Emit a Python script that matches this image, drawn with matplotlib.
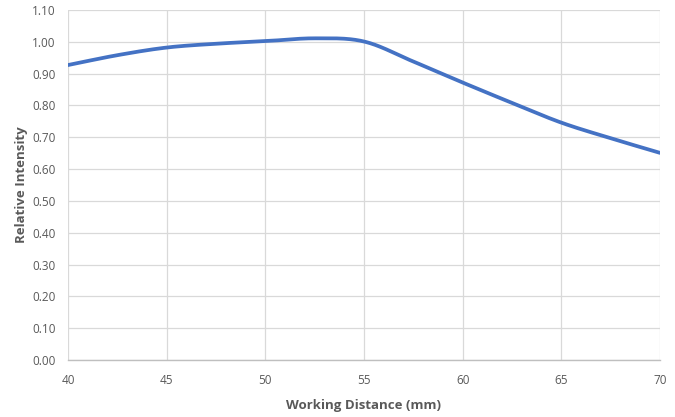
import numpy as np
import matplotlib
matplotlib.use("Agg")
import matplotlib.pyplot as plt

distance = [40, 42.5, 45, 47.5, 50, 52.5, 55, 57.5, 60, 62.5, 65, 67.5, 70]
intensity = [0.927, 0.958, 0.982, 0.994, 1.002, 1.011, 1.001, 0.938, 0.872,
             0.808, 0.746, 0.697, 0.651]
x_ticks = [40, 45, 50, 55, 60, 65, 70]
y_ticks = [0.0, 0.1, 0.2, 0.3, 0.4, 0.5, 0.6, 0.7, 0.8, 0.9, 1.0, 1.1]


def catmull_rom(xs, ys, n=40):
    xs = np.asarray(xs, float); ys = np.asarray(ys, float)
    px = np.concatenate([[2*xs[0]-xs[1]], xs, [2*xs[-1]-xs[-2]]])
    py = np.concatenate([[2*ys[0]-ys[1]], ys, [2*ys[-1]-ys[-2]]])
    ox, oy = [], []
    for i in range(1, len(px)-2):
        t = np.linspace(0, 1, n, endpoint=(i == len(px)-3))
        for arr, out in ((px, ox), (py, oy)):
            p0, p1, p2, p3 = arr[i-1], arr[i], arr[i+1], arr[i+2]
            m1 = (p2 - p0) / 2
            m2 = (p3 - p1) / 2
            h00 = 2*t**3 - 3*t**2 + 1
            h10 = t**3 - 2*t**2 + t
            h01 = -2*t**3 + 3*t**2
            h11 = t**3 - t**2
            out.extend(h00*p1 + h10*m1 + h01*p2 + h11*m2)
    return np.array(ox), np.array(oy)


plt.rcParams['font.family'] = ['Open Sans', 'DejaVu Sans']
fig = plt.figure(figsize=(6.75, 4.17), dpi=100)
ax = fig.add_axes([68/675, 1 - 360/417, (660-68)/675, 350/417])

sx, sy = catmull_rom(distance, intensity)
ax.plot(sx, sy, color='#4472C4', lw=2.7, solid_capstyle='round', zorder=3)

ax.set_xlim(40, 70)
ax.set_ylim(0, 1.1)
ax.set_xticks(x_ticks)
ax.set_yticks(y_ticks)
ax.set_yticklabels([f"{v:.2f}" for v in y_ticks])
ax.grid(True, color='#D9D9D9', lw=0.9)
ax.set_axisbelow(True)
for s in ['top', 'right', 'left']:
    ax.spines[s].set_visible(False)
ax.spines['bottom'].set_color('#BFBFBF')
ax.spines['bottom'].set_linewidth(1.0)
ax.tick_params(axis='both', length=0, labelsize=8.5, colors='#595959')
ax.tick_params(axis='x', pad=10)
ax.tick_params(axis='y', pad=9)
ax.set_xlabel('Working Distance (mm)', fontsize=9.5, fontweight='bold', color='#595959', labelpad=9)
ax.set_ylabel('Relative Intensity', fontsize=9.5, fontweight='bold', color='#595959', labelpad=3)

fig.savefig('out.png', dpi=100)
